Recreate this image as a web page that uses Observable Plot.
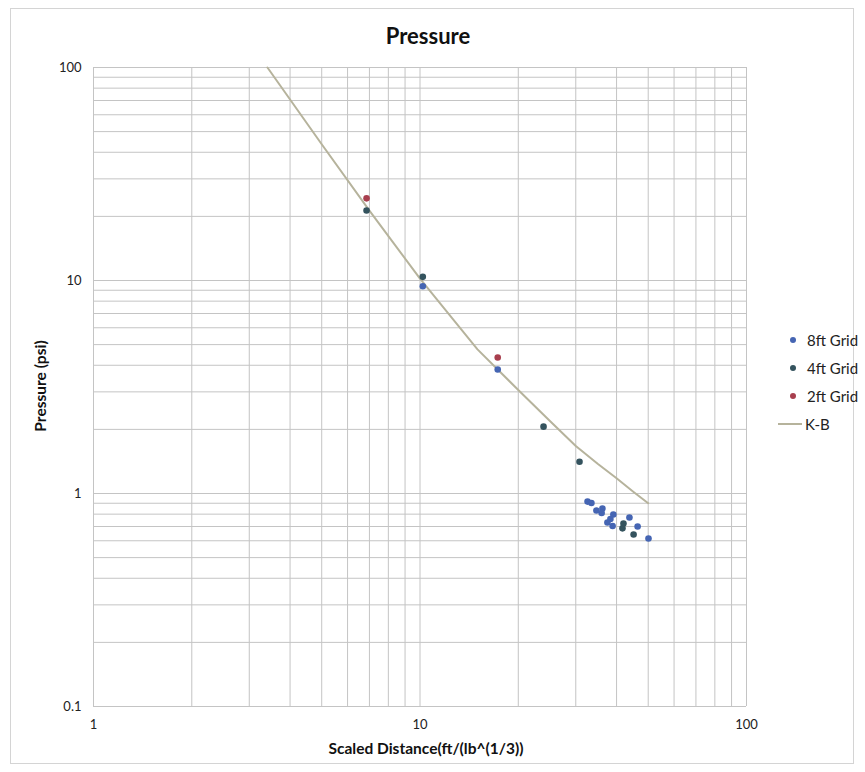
<!DOCTYPE html>
<html>
<head>
<meta charset="utf-8">
<script src="https://cdn.jsdelivr.net/npm/d3@7"></script>
<script src="https://cdn.jsdelivr.net/npm/@observablehq/plot@0.6"></script>
<style>
  html, body { margin: 0; padding: 0; background: #ffffff; }
  #wrap { position: relative; width: 865px; height: 772px; font-family: Lato, "Open Sans", sans-serif; }
  #border { position: absolute; left: 10px; top: 8px; width: 844px; height: 756px; border: 1px solid #d4d4d4; box-sizing: border-box; pointer-events: none; }
  #title { position: absolute; left: 0; width: 856px; top: 22px; text-align: center; font-weight: bold; font-size: 22px; color: #111; }
  #ylab { position: absolute; left: 40px; top: 386px; transform: translate(-50%, -50%) rotate(-90deg); font-weight: bold; font-size: 15.5px; color: #111; white-space: nowrap; }
  #xlab { position: absolute; left: 426px; top: 739px; transform: translateX(-50%); font-weight: bold; font-size: 15.5px; color: #111; white-space: nowrap; }
  #legend { position: absolute; left: 778px; top: 326px; font-size: 15px; color: #222; }
  .lg { height: 28px; display: flex; align-items: center; }
  .dot { width: 6px; height: 6px; border-radius: 50%; margin-left: 12px; margin-right: 11px; }
  .ln { width: 24px; height: 2px; margin-right: 3px; }
</style>
</head>
<body>
<div id="wrap">
  <div id="chart"></div>
  <div id="border"></div>
  <div id="title">Pressure</div>
  <div id="ylab">Pressure (psi)</div>
  <div id="xlab">Scaled Distance(ft/(lb^(1/3))</div>
  <div id="legend"></div>
</div>
<script>
// ---- data ----
const seriesNames = ["8ft Grid", "4ft Grid", "2ft Grid"];
const seriesColors = ["#4565b3", "#34535e", "#a83f4e"];
const lineName = "K-B";
const lineColor = "#b6b39c";

const grid8x = [10.2, 17.3, 32.6, 33.5, 34.7, 36.2, 36.0, 39.1, 38.3, 37.5, 38.9, 43.8, 46.4, 50.1];
const grid8y = [9.4, 3.82, 0.916, 0.902, 0.832, 0.851, 0.810, 0.797, 0.759, 0.731, 0.704, 0.771, 0.700, 0.615];
const grid4x = [6.86, 10.2, 23.9, 30.8, 42.0, 41.7, 45.1];
const grid4y = [21.3, 10.4, 2.06, 1.41, 0.723, 0.686, 0.642];
const grid2x = [6.86, 17.3];
const grid2y = [24.3, 4.35];

const kbX = [3.41, 5, 7, 10, 15, 20, 25, 30, 35, 40, 45, 50];
const kbY = [100, 43.6, 21.3, 10.2, 4.75, 3.06, 2.19, 1.67, 1.38, 1.18, 1.02, 0.90];

const xGrid = [1, 2, 3, 4, 5, 6, 7, 8, 9, 10, 20, 30, 40, 50, 60, 70, 80, 90, 100];
const yGrid = [0.1, 0.2, 0.3, 0.4, 0.5, 0.6, 0.7, 0.8, 0.9, 1, 2, 3, 4, 5, 6, 7, 8, 9, 10, 20, 30, 40, 50, 60, 70, 80, 90, 100];
const xTicks = [1, 10, 100];
const xTickLabels = ["1", "10", "100"];
const yTicks = [0.1, 1, 10, 100];
const yTickLabels = ["0.1", "1", "10", "100"];

// ---- build tables ----
const pts = [];
[[grid8x, grid8y], [grid4x, grid4y], [grid2x, grid2y]].forEach(([xs, ys], s) => {
  xs.forEach((x, i) => pts.push({series: seriesNames[s], x, y: ys[i]}));
});
const kb = kbX.map((x, i) => ({x, y: kbY[i]}));
const xTickData = xTicks.map((v, i) => ({v, label: xTickLabels[i]}));
const yTickData = yTicks.map((v, i) => ({v, label: yTickLabels[i]}));

const chart = Plot.plot({
  width: 865,
  height: 772,
  marginLeft: 93,
  marginRight: 119,
  marginTop: 67,
  marginBottom: 66,
  style: {fontFamily: "Lato, 'Open Sans', sans-serif", fontSize: "13px", color: "#222", background: "transparent"},
  x: {type: "log", domain: [1, 100], axis: null},
  y: {type: "log", domain: [0.1, 100], axis: null},
  color: {domain: seriesNames, range: seriesColors},
  marks: [
    Plot.ruleX(xGrid, {stroke: "#c4c4c4", strokeWidth: 1}),
    Plot.ruleY(yGrid, {stroke: "#c4c4c4", strokeWidth: 1}),
    Plot.text(xTickData, {x: "v", text: "label", frameAnchor: "bottom", lineAnchor: "top", dy: 13, fill: "#222", fontSize: 13}),
    Plot.text(yTickData, {y: "v", text: "label", frameAnchor: "left", textAnchor: "end", dx: -12, fill: "#222", fontSize: 13}),
    Plot.line(kb, {x: "x", y: "y", stroke: lineColor, strokeWidth: 2}),
    Plot.dot(pts, {x: "x", y: "y", fill: "series", r: 3.3})
  ]
});
document.getElementById("chart").appendChild(chart);

// ---- legend ----
const lg = document.getElementById("legend");
seriesNames.forEach((n, i) => {
  const row = document.createElement("div");
  row.className = "lg";
  row.innerHTML = `<span class="dot" style="background:${seriesColors[i]}"></span><span>${n}</span>`;
  lg.appendChild(row);
});
const row = document.createElement("div");
row.className = "lg";
row.innerHTML = `<span class="ln" style="background:${lineColor}"></span><span>${lineName}</span>`;
lg.appendChild(row);
</script>
</body>
</html>
